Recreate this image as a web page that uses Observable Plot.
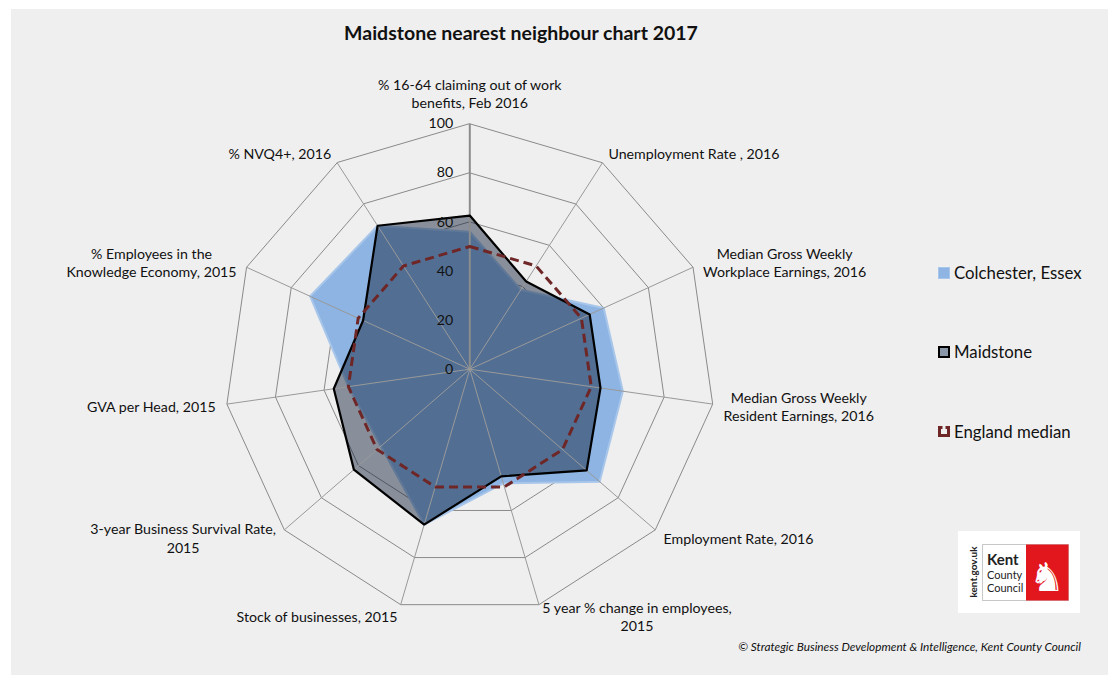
<!DOCTYPE html>
<html><head><meta charset="utf-8">
<script src="https://cdn.jsdelivr.net/npm/d3@7"></script>
<script src="https://cdn.jsdelivr.net/npm/@observablehq/plot@0.6"></script>
<style>
body{margin:0;background:#fff;font-family:Lato,"Open Sans",sans-serif;color:#111;}
#wrap{position:relative;width:1108px;height:675px;overflow:hidden;}
#panel{position:absolute;left:11px;top:9px;right:0;bottom:0;background:#efefef;}
#chart{position:absolute;left:0;top:0;}
#title{position:absolute;left:0;width:1042px;top:21px;text-align:center;font-weight:bold;font-size:19.5px;line-height:24px;}
.leg{position:absolute;left:938px;font-size:16.8px;line-height:20px;display:flex;align-items:center;}
.leg svg{margin-right:4px;}
#caption{position:absolute;right:27px;top:639px;font-style:italic;font-size:11.8px;}
#logo{position:absolute;left:958px;top:531px;}
</style></head>
<body>
<div id="wrap">
  <div id="panel"></div>
  <div id="chart"></div>
  <div id="title">Maidstone nearest neighbour chart 2017</div>
  <div id="legend"></div>
  <div id="logo">
    <svg width="122" height="82" font-family="Lato, sans-serif">
      <rect x="0" y="0" width="122" height="82" fill="#fff"/>
      <text transform="translate(19,41) rotate(-90)" text-anchor="middle" font-size="10" font-weight="bold" fill="#222">kent.gov.uk</text>
      <rect x="24.5" y="13.5" width="86" height="56" fill="#fff" stroke="#c8c8c8"/>
      <rect x="68" y="13.5" width="42.5" height="56" fill="#e2161d"/>
      <text x="29" y="34" font-size="15" font-weight="bold" fill="#222">Kent</text>
      <text x="29" y="48" font-size="11" fill="#222">County</text>
      <text x="29" y="61" font-size="11" fill="#222">Council</text>
      <text x="89" y="60" text-anchor="middle" font-size="40" fill="#fff" font-family="DejaVu Sans">♞</text>
    </svg>
  </div>
  <div id="caption">© Strategic Business Development &amp; Intelligence, Kent County Council</div>
</div>
<script>
// ---- data ----
const axisLabels = [
  "% 16-64 claiming out of work\nbenefits, Feb 2016",
  "Unemployment Rate , 2016",
  "Median Gross Weekly\nWorkplace Earnings, 2016",
  "Median Gross Weekly\nResident Earnings, 2016",
  "Employment Rate, 2016",
  "5 year % change in employees,\n2015",
  "Stock of businesses, 2015",
  "3-year Business Survival Rate,\n2015",
  "GVA per Head, 2015",
  "% Employees in the\nKnowledge Economy, 2015",
  "% NVQ4+, 2016"
];
const colchester    = [56, 38.5, 60, 63, 70, 48.5, 66, 48, 50, 71.5, 69.5];
const maidstone     = [62.6, 42.5, 53.7, 53.8, 63, 45.5, 66, 62.5, 56, 47.8, 69.5];
const englandMedian = [50, 50, 50, 50, 50, 50, 50, 50, 50, 50, 50];
const seriesNames = ["Colchester, Essex", "Maidstone", "England median"];
const ringLevels = [20, 40, 60, 80, 100];
const tickLabels = [0, 20, 40, 60, 80, 100];

// ---- layout ----
const W = 1108, H = 675, CX = 469.3, CY = 368.7, R = 245.4, k = R / 100;
const FS = 14.2, LH = 18.5;
const n = axisLabels.length;
const ang = i => i * 2 * Math.PI / n;
const px = (i, v) => v * Math.sin(ang(i));
const py = (i, v) => v * Math.cos(ang(i));
const toPts = (vals, name) => vals.map((v, i) => ({name, i, x: px(i, v), y: py(i, v)}));

const grid = ringLevels.flatMap(r => axisLabels.map((_, i) => ({r, x: px(i, r), y: py(i, r)})));
const spokes = axisLabels.map((_, i) => ({i, x: px(i, 100), y: py(i, 100)}));

const ctx = document.createElement("canvas").getContext("2d");
ctx.font = `${FS}px Lato`;
const labelData = axisLabels.map((t, i) => {
  const lines = t.split("\n");
  const w = Math.max(...lines.map(l => ctx.measureText(l).width));
  const dx = Math.sin(ang(i)), dy = -Math.cos(ang(i));
  const ex = CX + R * dx, ey = CY + R * dy;
  let cx, cy;
  if (Math.abs(dx) < 0.1) { cx = ex; cy = ey - (lines.length * LH / 2 + 12); }
  else { cx = ex + dx * 11 + Math.sign(dx) * w / 2; cy = ey + dy * 12; }
  return {text: t, x: (cx - CX) / k, y: (CY - cy) / k};
});

const chart = Plot.plot({
  width: W, height: H,
  marginLeft: 0, marginRight: 0, marginTop: 0, marginBottom: 0,
  x: {domain: [-CX / k, (W - CX) / k], axis: null},
  y: {domain: [-(H - CY) / k, CY / k], axis: null},
  style: {background: "transparent", fontFamily: "Lato, 'Open Sans', sans-serif", fontSize: FS + "px", color: "#111"},
  marks: [
    Plot.line(grid, {x: "x", y: "y", z: "r", curve: "linear-closed", stroke: "#8a8a8a", strokeWidth: 1}),
    Plot.line(toPts(colchester, seriesNames[0]), {x: "x", y: "y", curve: "linear-closed", fill: "#8db4e2", stroke: "#a8c6ea", strokeWidth: 2}),
    Plot.line(toPts(maidstone, seriesNames[1]), {x: "x", y: "y", curve: "linear-closed", fill: "#0b1b33", fillOpacity: 0.45, stroke: "none"}),
    Plot.link(spokes, {x1: 0, y1: 0, x2: "x", y2: "y", stroke: d => d.i === 0 ? "#8c8c8c" : "#999", strokeWidth: d => d.i === 0 ? 2 : 1}),
    Plot.line(toPts(maidstone, seriesNames[1]), {x: "x", y: "y", curve: "linear-closed", stroke: "#000", strokeWidth: 2.2, strokeLinejoin: "miter"}),
    Plot.line(toPts(englandMedian, seriesNames[2]), {x: "x", y: "y", curve: "linear-closed", stroke: "#6e2626", strokeWidth: 3, strokeDasharray: "9,5", strokeLinecap: "butt"}),
    Plot.text(tickLabels, {x: -16.5 / k, y: d => d, text: d => String(d), textAnchor: "end", lineAnchor: "middle", fill: "#111"}),
    Plot.text(labelData, {x: "x", y: "y", text: "text", textAnchor: "middle", lineAnchor: "middle", lineHeight: LH / FS, fill: "#111"})
  ]
});
document.getElementById("chart").appendChild(chart);

// legend
const legendTops = [263, 342, 422];
const swatch = [
  `<svg width="12" height="12"><rect x="0.5" y="0.5" width="11" height="11" fill="#8db4e2" stroke="#a8c6ea"/></svg>`,
  `<svg width="12" height="12"><rect x="1" y="1" width="10" height="10" fill="#8a97a8" stroke="#000" stroke-width="2"/></svg>`,
  `<svg width="12" height="12"><path d="M1.5,11 V1.5 H4.5 M7.5,1.5 H10.5 V11" fill="none" stroke="#6e2626" stroke-width="3"/><path d="M3,9.5 H9" stroke="#6e2626" stroke-width="3"/></svg>`
];
const leg = document.getElementById("legend");
seriesNames.forEach((s, i) => {
  const d = document.createElement("div");
  d.className = "leg";
  d.style.top = legendTops[i] + "px";
  d.innerHTML = swatch[i] + `<span>${s}</span>`;
  leg.appendChild(d);
});
</script>
</body></html>
